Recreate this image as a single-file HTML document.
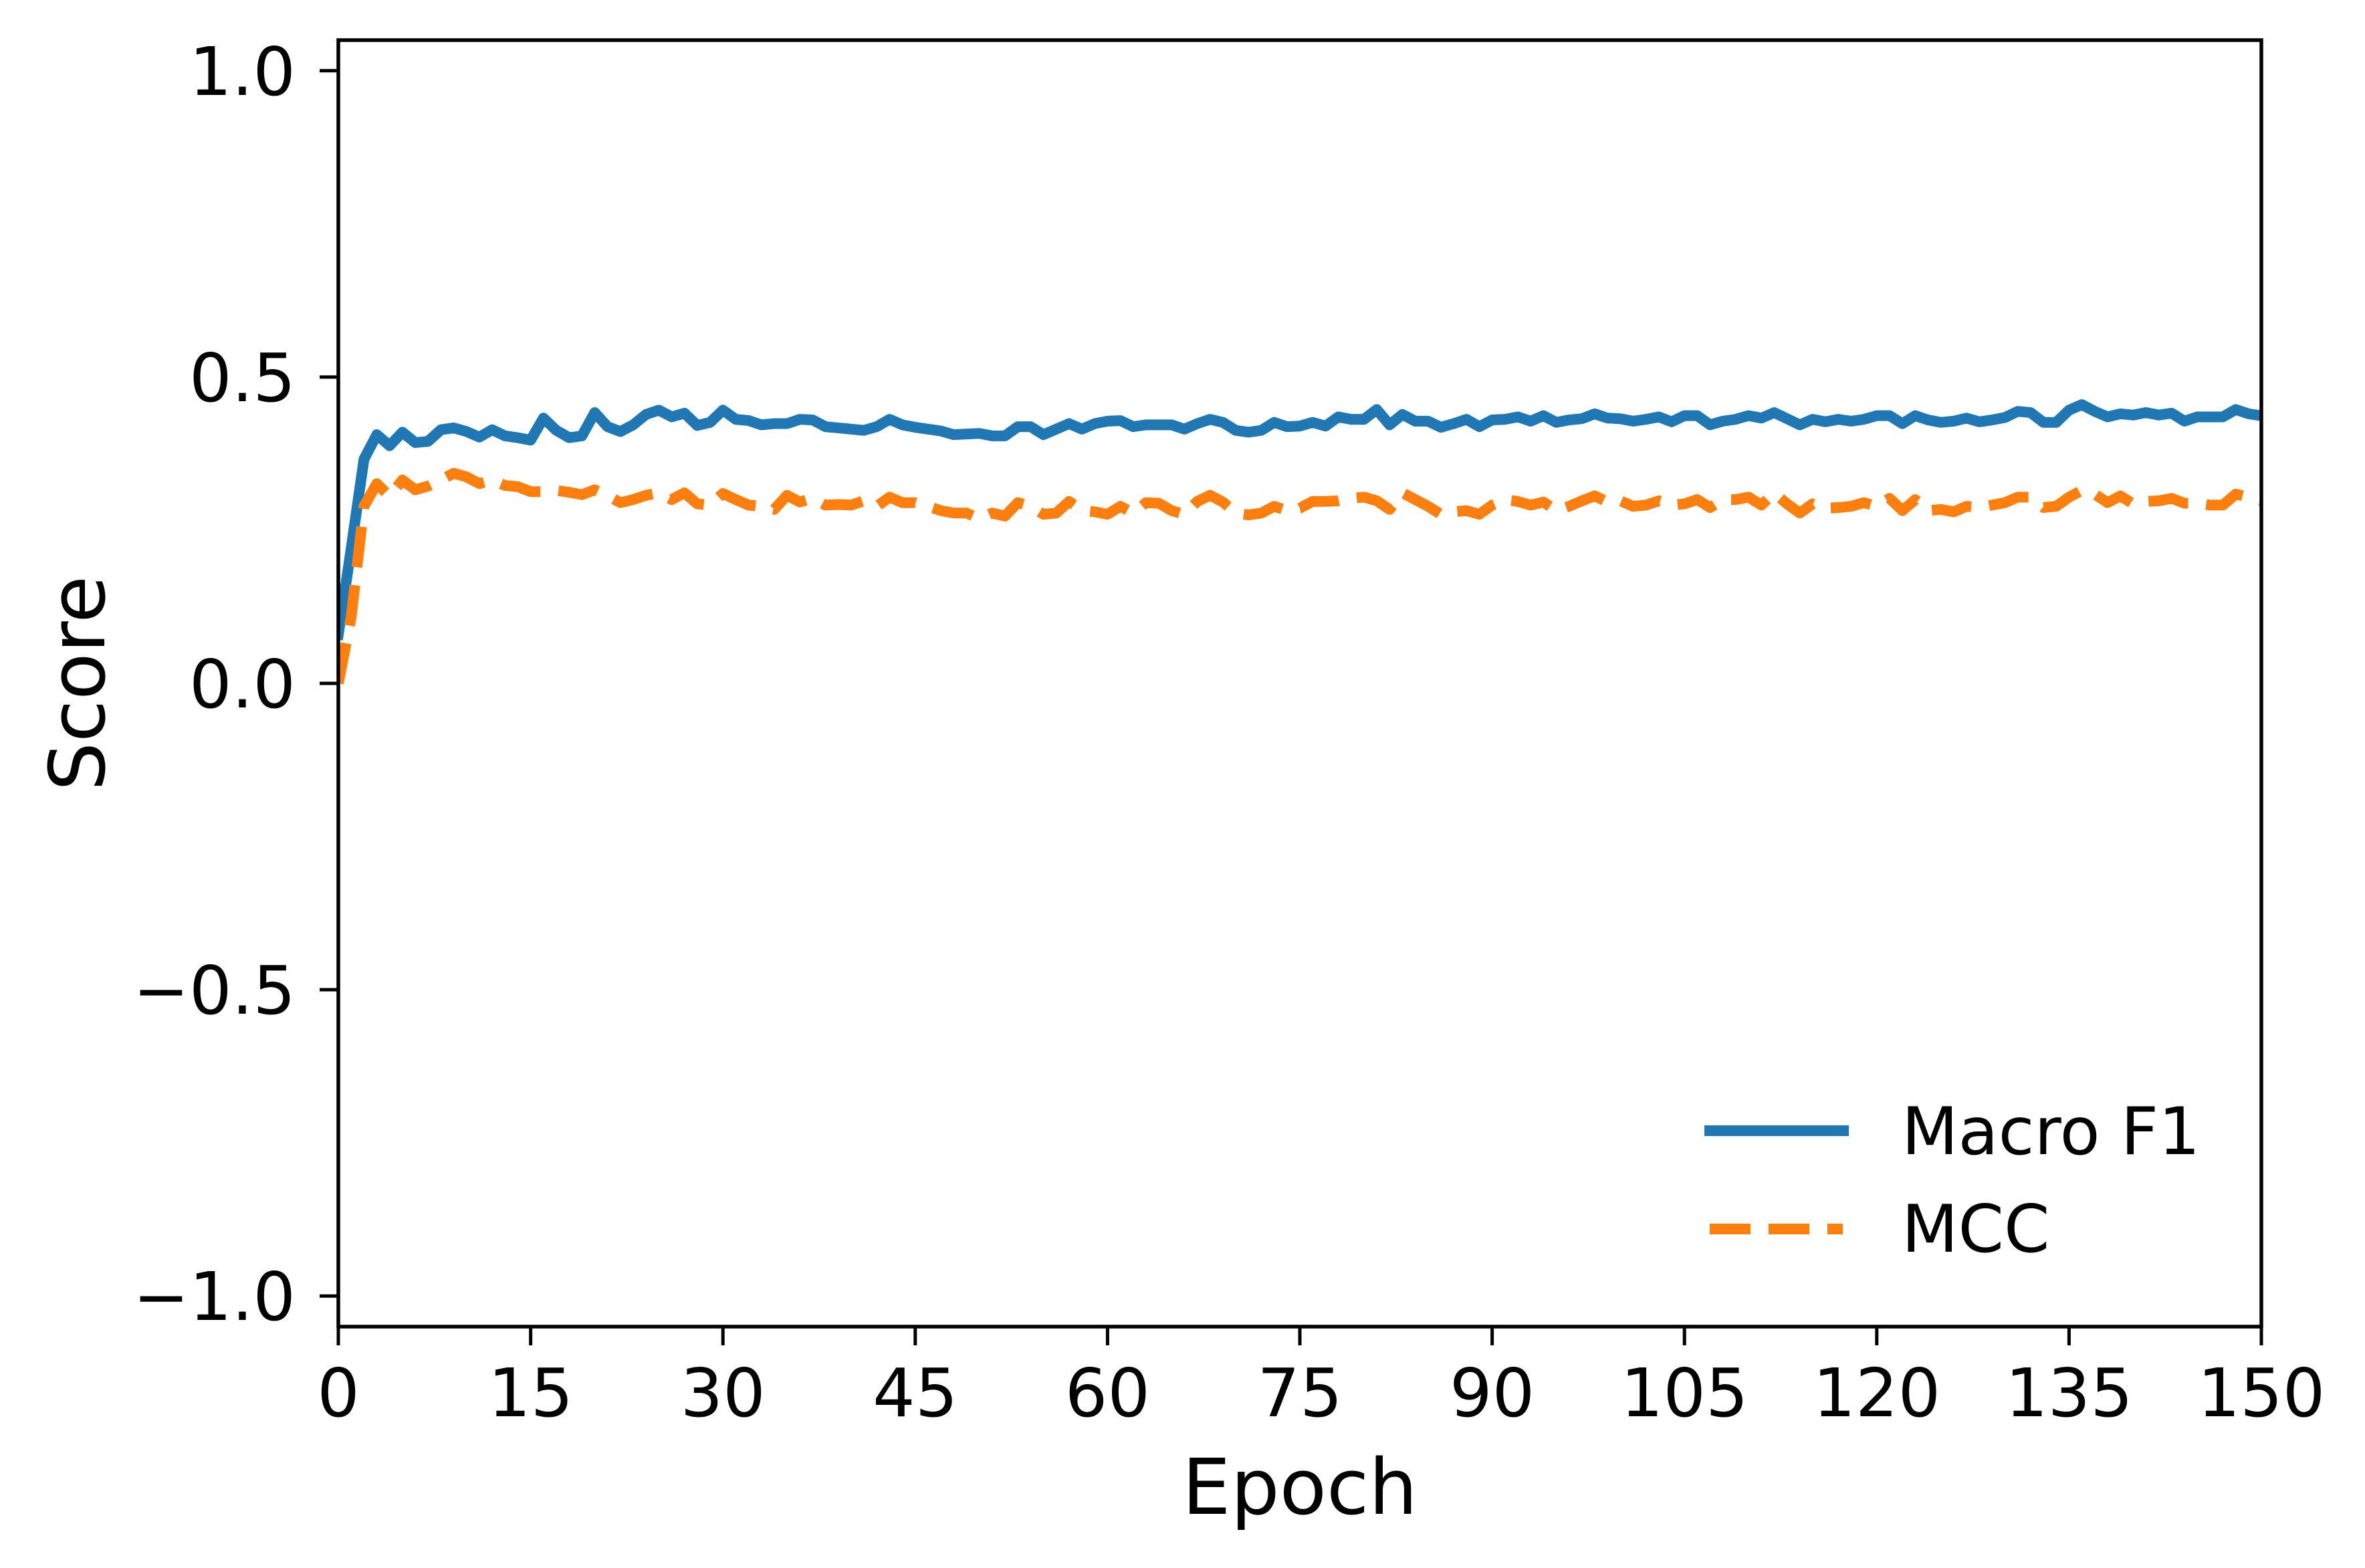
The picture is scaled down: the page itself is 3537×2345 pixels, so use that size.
<!DOCTYPE html>
<html><head><meta charset="utf-8"><style>
html,body{margin:0;padding:0;background:#fff;}
svg{display:block;font-family:"DejaVu Sans","Liberation Sans",sans-serif;}
</style></head><body>
<svg id="chart" width="3537" height="2345" viewBox="0 0 3537 2345" xmlns="http://www.w3.org/2000/svg">
<rect width="3537" height="2345" fill="#fff"/>
<defs><clipPath id="plotclip"><rect x="506" y="60" width="2876" height="1924"/></clipPath></defs>
<g id="series" clip-path="url(#plotclip)"></g>
<g id="axes"></g>
<g>
  <line x1="2549" y1="1691" x2="2765" y2="1691" stroke="#1f77b4" stroke-width="16"/>
  <text x="2844" y="1726" font-size="98">Macro F1</text>
  <line x1="2557" y1="1838" x2="2756" y2="1838" stroke="#ff7f0e" stroke-width="16" stroke-dasharray="61 27"/>
  <text x="2844" y="1872" font-size="98">MCC</text>
</g>
<text x="1944" y="2264" font-size="115" text-anchor="middle">Epoch</text>
<text x="0" y="0" font-size="115" text-anchor="middle" transform="translate(156,1022) rotate(-90)">Score</text>
</svg>
<script>
const macroF1 = [
0.08,0.22,0.366,0.406,0.388,0.41,0.393,0.395,0.414,0.417,
0.411,0.402,0.414,0.404,0.401,0.397,0.433,0.413,0.401,0.404,
0.442,0.419,0.411,0.422,0.439,0.446,0.435,0.441,0.421,0.426,
0.446,0.431,0.429,0.422,0.424,0.424,0.431,0.430,0.419,0.417,
0.415,0.413,0.419,0.431,0.422,0.418,0.415,0.412,0.406,0.407,
0.408,0.404,0.404,0.419,0.419,0.406,0.415,0.424,0.415,0.424,
0.428,0.429,0.419,0.422,0.422,0.422,0.415,0.424,0.431,0.426,
0.413,0.410,0.413,0.426,0.419,0.420,0.426,0.420,0.435,0.431,
0.431,0.447,0.422,0.439,0.428,0.428,0.418,0.424,0.431,0.419,
0.430,0.431,0.435,0.428,0.437,0.426,0.430,0.432,0.440,0.433,
0.432,0.428,0.431,0.435,0.427,0.437,0.437,0.422,0.428,0.431,
0.437,0.433,0.442,0.432,0.422,0.431,0.427,0.431,0.428,0.431,
0.437,0.437,0.424,0.437,0.430,0.426,0.428,0.433,0.427,0.430,
0.434,0.444,0.442,0.426,0.426,0.446,0.455,0.444,0.435,0.440,
0.438,0.442,0.438,0.441,0.428,0.435,0.435,0.435,0.447,0.440,
0.437];
const mcc = [
0.0,0.108,0.289,0.326,0.305,0.332,0.316,0.322,0.332,0.343,
0.337,0.326,0.332,0.323,0.321,0.313,0.313,0.315,0.312,0.308,
0.316,0.306,0.295,0.300,0.307,0.311,0.300,0.311,0.293,0.291,
0.310,0.300,0.291,0.289,0.284,0.307,0.296,0.302,0.291,0.292,
0.291,0.298,0.289,0.304,0.295,0.295,0.289,0.282,0.278,0.278,
0.269,0.278,0.273,0.295,0.289,0.276,0.278,0.297,0.282,0.280,
0.276,0.289,0.278,0.295,0.294,0.282,0.276,0.297,0.307,0.296,
0.278,0.275,0.278,0.289,0.282,0.286,0.297,0.297,0.298,0.302,
0.304,0.298,0.284,0.311,0.300,0.289,0.276,0.280,0.282,0.276,
0.291,0.300,0.297,0.291,0.296,0.282,0.289,0.298,0.306,0.296,
0.298,0.289,0.291,0.298,0.291,0.293,0.300,0.287,0.300,0.300,
0.304,0.291,0.311,0.293,0.278,0.293,0.286,0.287,0.289,0.295,
0.289,0.302,0.282,0.300,0.282,0.284,0.280,0.289,0.287,0.291,
0.295,0.304,0.304,0.287,0.289,0.304,0.315,0.309,0.295,0.306,
0.293,0.297,0.298,0.302,0.294,0.294,0.291,0.291,0.309,0.304,
0.298];
const xTicks = [0,15,30,45,60,75,90,105,120,135,150];
const yTicks = [1.0,0.5,0.0,-0.5,-1.0];
const yTickLabels = ["1.0","0.5","0.0","\u22120.5","\u22121.0"];

const NS = "http://www.w3.org/2000/svg";
const L = 506, R = 3382, T = 60, B = 1984;
const xMin = 0, xMax = 150, yMin = -1.05, yMax = 1.05;
function xs(v){ return L + (v - xMin) / (xMax - xMin) * (R - L); }
function ys(v){ return B - (v - yMin) / (yMax - yMin) * (B - T); }
function mk(tag, attrs){ const e = document.createElementNS(NS, tag); for (const k in attrs) e.setAttribute(k, attrs[k]); return e; }

const series = document.getElementById('series');
function drawLine(vals, color, dash, name){
  const pts = vals.map((v,i)=> xs(i).toFixed(2)+','+ys(v).toFixed(2)).join(' ');
  const p = mk('polyline', {points: pts, fill: 'none', stroke: color, 'stroke-width': 16, 'stroke-linejoin': 'round', 'stroke-linecap': dash ? 'butt' : 'square'});
  if (dash) p.setAttribute('stroke-dasharray', dash);
  
  
  series.appendChild(p);
}
drawLine(macroF1, '#1f77b4', null, 'macro-f1-line');
drawLine(mcc, '#ff7f0e', '61 27', 'mcc-line');

const axes = document.getElementById('axes');
const frame = mk('rect', {x: L, y: T, width: R - L, height: B - T, fill: 'none', stroke: '#000', 'stroke-width': 5.5});


axes.appendChild(frame);

xTicks.forEach(t => {
  const x = xs(t);
  const tk = mk('line', {x1: x, y1: B, x2: x, y2: B + 28, stroke: '#000', 'stroke-width': 5});
  
  
  axes.appendChild(tk);
  const lb = mk('text', {x: x, y: 2118, 'font-size': 100, 'text-anchor': 'middle'});
  lb.textContent = String(t);
  
  
  axes.appendChild(lb);
});
yTicks.forEach((t, i) => {
  const y = ys(t);
  const tk = mk('line', {x1: L - 28, y1: y, x2: L, y2: y, stroke: '#000', 'stroke-width': 5});
  
  
  axes.appendChild(tk);
  const lb = mk('text', {x: 442, y: y + 36, 'font-size': 100, 'text-anchor': 'end'});
  lb.textContent = yTickLabels[i];
  
  
  axes.appendChild(lb);
});
</script>
</body></html>
